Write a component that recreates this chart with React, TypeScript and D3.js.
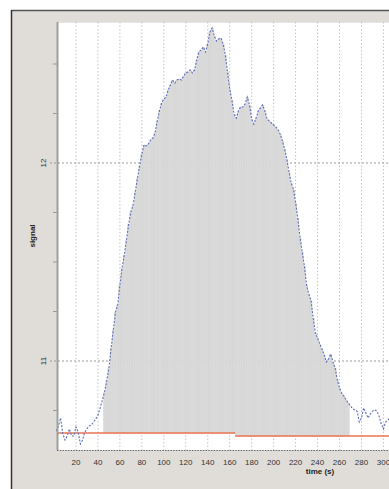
import React from "react";
import * as d3 from "d3";

// Sampled detector signal (one reading every 2 s, starting at t = 2 s)
const sampleStart = 2;
const sampleStep = 2;
const signal: number[] = [
  10.646, 10.672, 10.712, 10.631, 10.601, 10.621, 10.657, 10.621, 10.621, 10.667,
  10.641, 10.581, 10.601, 10.641, 10.657, 10.672, 10.677, 10.692, 10.707, 10.727,
  10.763, 10.803, 10.843, 10.899, 10.965, 11.066, 11.157, 11.247, 11.283, 11.384,
  11.47, 11.535, 11.611, 11.692, 11.753, 11.788, 11.854, 11.924, 11.985, 12.045,
  12.091, 12.086, 12.096, 12.116, 12.126, 12.152, 12.212, 12.263, 12.303, 12.323,
  12.333, 12.369, 12.394, 12.419, 12.404, 12.419, 12.424, 12.419, 12.439, 12.455,
  12.46, 12.47, 12.455, 12.47, 12.52, 12.561, 12.571, 12.586, 12.561, 12.601,
  12.662, 12.682, 12.641, 12.616, 12.626, 12.631, 12.601, 12.545, 12.46, 12.374,
  12.318, 12.247, 12.227, 12.263, 12.283, 12.283, 12.298, 12.333, 12.293, 12.222,
  12.197, 12.227, 12.263, 12.278, 12.293, 12.263, 12.222, 12.212, 12.202, 12.192,
  12.182, 12.167, 12.146, 12.111, 12.071, 12.02, 11.955, 11.899, 11.869, 11.798,
  11.722, 11.626, 11.551, 11.48, 11.384, 11.338, 11.308, 11.217, 11.141, 11.116,
  11.086, 11.061, 11.03, 10.995, 11.01, 11.035, 10.995, 10.965, 10.904, 10.864,
  10.838, 10.823, 10.803, 10.788, 10.773, 10.758, 10.753, 10.747, 10.692, 10.712,
  10.763, 10.737, 10.712, 10.732, 10.747, 10.753, 10.747, 10.722, 10.682, 10.657,
  10.692, 10.702, 10.712,
];

// Baseline level: two pieces split at the break time
const baselineBreak = 165;
const baselineLevels = [10.636, 10.621];

// Integrated window (shaded bars)
const integrationWindow = [46, 268];

// Axis ticks
const xTicks = [20, 40, 60, 80, 100, 120, 140, 160, 180, 200, 220, 240, 260, 280, 300];
const yTicks = [11, 12];
const yMinorTicks = [10.75, 11.25, 11.5, 11.75, 12.25, 12.5];

const W = 389;
const H = 489;
const plot = { left: 57, top: 22, bottom: 450, right: 401 };

export default function App() {
  const times = signal.map((_, i) => sampleStart + i * sampleStep);

  const x = d3.scaleLinear().domain([2.7, 316]).range([plot.left, plot.right]);
  const y = d3.scaleLinear().domain([11, 12]).range([361, 163]);

  const baseAt = (t: number) => (t < baselineBreak ? baselineLevels[0] : baselineLevels[1]);

  const line = d3
    .line<number>()
    .x((_, i) => x(times[i]))
    .y((v) => y(v));

  const barW = x(sampleStep) - x(0);
  const bars = signal
    .map((v, i) => ({ t: times[i], v }))
    .filter((d) => d.t >= integrationWindow[0] && d.t <= integrationWindow[1]);

  const font = "'Liberation Sans', Arial, sans-serif";

  return (
    <svg
      width={W}
      height={H}
      style={{ position: "absolute", left: 0, top: 0 }}
      fontFamily={font}
    >
      <rect x={0} y={0} width={W} height={H} fill="#ffffff" />
      {/* panel */}
      <rect x={11} y={10} width={W - 11} height={H - 10} fill="#e0ddd8" />
      <line x1={11} x2={W} y1={10.5} y2={10.5} stroke="#555" strokeWidth={1.5} />
      <line x1={11.5} x2={11.5} y1={10} y2={H} stroke="#333" strokeWidth={1.5} />

      {/* plot area */}
      <rect x={plot.left} y={plot.top} width={W - plot.left} height={plot.bottom - plot.top} fill="#ffffff" />
      <line x1={plot.left} x2={W} y1={plot.top + 0.5} y2={plot.top + 0.5} stroke="#e6e6e6" />

      {/* grid */}
      {xTicks.map((t) => (
        <line
          key={"gx" + t}
          x1={x(t)}
          x2={x(t)}
          y1={plot.top}
          y2={plot.bottom}
          stroke="#c4c4c4"
          strokeDasharray="1.5 2"
        />
      ))}
      {yTicks.map((v) => (
        <line
          key={"gy" + v}
          x1={50}
          x2={W}
          y1={y(v)}
          y2={y(v)}
          stroke="#9a9a9a"
          strokeDasharray="2 2"
        />
      ))}

      {/* integrated bars */}
      {bars.map((d) => (
        <rect
          key={"b" + d.t}
          x={x(d.t) - barW / 2}
          width={barW}
          y={y(d.v)}
          height={Math.max(0, y(baseAt(d.t)) - y(d.v))}
          fill="#dadada"
          stroke="#cdcdcd"
          strokeWidth={0.3}
        />
      ))}

      {/* baseline */}
      <line
        x1={x(2.7)}
        x2={x(baselineBreak)}
        y1={y(baselineLevels[0])}
        y2={y(baselineLevels[0])}
        stroke="#ea7450"
        strokeWidth={1.6}
      />
      <line
        x1={x(baselineBreak)}
        x2={x(316)}
        y1={y(baselineLevels[1])}
        y2={y(baselineLevels[1])}
        stroke="#ea7450"
        strokeWidth={1.6}
      />

      {/* signal trace */}
      <path
        d={line(signal) ?? ""}
        fill="none"
        stroke="#5d6db9"
        strokeWidth={1.1}
        strokeDasharray="2 1.5"
      />

      {/* axes */}
      <line x1={plot.left + 0.5} x2={plot.left + 0.5} y1={plot.top} y2={plot.bottom} stroke="#a0a0a0" strokeWidth={2} />
      <line x1={plot.left} x2={W} y1={plot.bottom + 0.5} y2={plot.bottom + 0.5} stroke="#6a6a6a" strokeWidth={1.2} strokeDasharray="1.5 1.2" />
      {yMinorTicks.map((v) => (
        <line key={"my" + v} x1={53} x2={57} y1={y(v)} y2={y(v)} stroke="#999" />
      ))}
      {yTicks.map((v) => (
        <text
          key={"ty" + v}
          transform={`translate(46,${y(v)}) rotate(-90)`}
          textAnchor="middle"
          fontSize={8}
          fill="#333"
        >
          {v}
        </text>
      ))}
      {xTicks.map((t) => (
        <text key={"tx" + t} x={x(t)} y={465} textAnchor="middle" fontSize={8} fill="#333">
          {t}
        </text>
      ))}
      <text x={320} y={474} textAnchor="middle" fontSize={8} fontWeight="bold" fill="#222">
        time (s)
      </text>
      <text
        transform="translate(35,236) rotate(-90)"
        textAnchor="middle"
        fontSize={8}
        fontWeight="bold"
        fill="#222"
      >
        signal
      </text>
    </svg>
  );
}
